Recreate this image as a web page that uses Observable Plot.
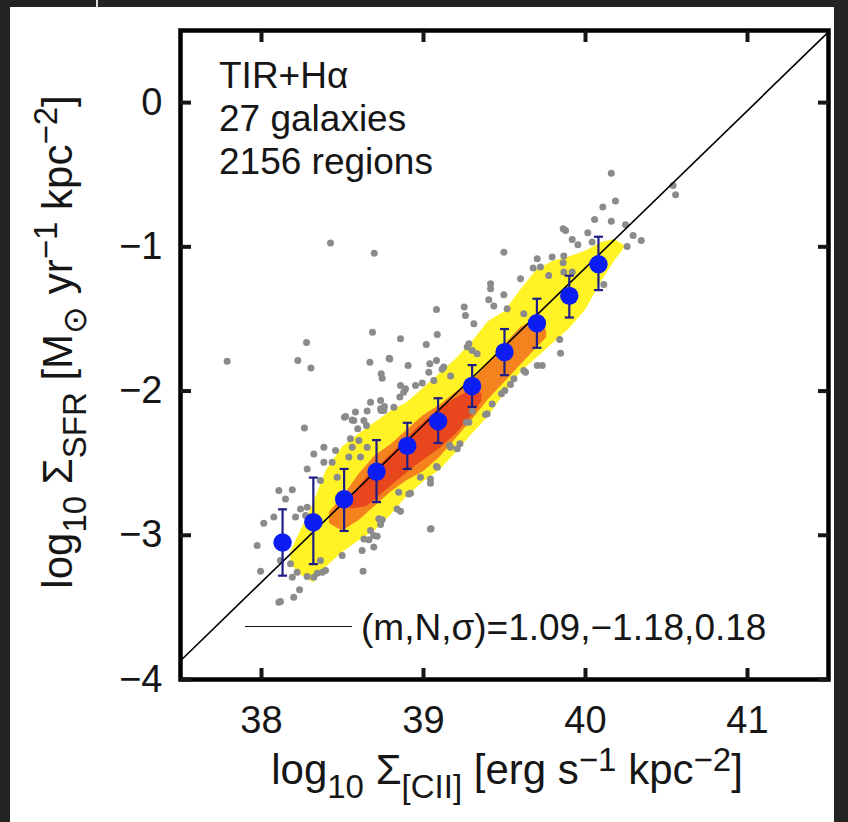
<!DOCTYPE html>
<html><head><meta charset="utf-8">
<script src="https://cdn.jsdelivr.net/npm/d3@7"></script>
<script src="https://cdn.jsdelivr.net/npm/@observablehq/plot@0.6"></script>
<style>
html,body{margin:0;padding:0;background:#232323;width:848px;height:822px;overflow:hidden;font-family:"Liberation Sans",Arial,sans-serif;}
#paper{position:absolute;left:10px;top:7px;width:824px;height:815px;background:#fff;}
#chart{position:absolute;left:0;top:0;}
#stray{position:absolute;left:96px;top:0;width:2px;height:7px;background:#ddd;}
.t{position:absolute;font-size:42px;color:#161616;white-space:nowrap;line-height:1;}
.t sub,.t sup{font-size:33px;line-height:0;vertical-align:baseline;position:relative;}
.t sub{top:0.42em;}
.t sup{top:-0.4em;}
#ann{left:219px;top:54px;line-height:43px;font-size:37px;}
#xlab{left:507px;top:749px;transform:translateX(-50%);}
#ylab{left:58px;top:342px;transform:translate(-50%,-50%) rotate(-90deg);}
#ylab sup{top:-0.45em;}
#legline{position:absolute;left:245px;top:626px;width:107px;height:0;border-top:1.6px solid #111;}
#legtxt{left:361px;top:609px;font-size:37px;}
</style></head><body>
<div id="paper"></div>
<div id="stray"></div>
<div id="chart"></div>
<div class="t" id="ann">TIR+Hα<br>27 galaxies<br>2156 regions</div>
<div class="t" id="xlab">log<sub>10</sub> Σ<sub>[CII]</sub> [erg s<sup>−1</sup> kpc<sup>−2</sup>]</div>
<div class="t" id="ylab">log<sub>10</sub> Σ<sub>SFR</sub> [M<sub>⊙</sub> yr<sup>−1</sup> kpc<sup>−2</sup>]</div>
<div id="legline"></div>
<div class="t" id="legtxt">(m,N,σ)=1.09,−1.18,0.18</div>
<script>
// axes
const xDomain = [37.5, 41.5];
const yDomain = [-4, 0.5];
const xTicks = [38, 39, 40, 41];
const yTicks = [0, -1, -2, -3, -4];

// density contour bands (outer yellow, middle orange, inner red)
const yellowX  = [38.18, 38.25, 38.32, 38.40, 38.50, 38.60, 38.70, 38.80, 38.90, 39.00, 39.10, 39.20, 39.30, 39.40, 39.50, 39.60, 39.70, 39.80, 39.90, 40.00, 40.10, 40.18, 40.24];
const yellowLo = [-3.20, -3.28, -3.33, -3.22, -3.12, -3.04, -2.97, -2.86, -2.73, -2.63, -2.55, -2.43, -2.30, -2.18, -2.02, -1.87, -1.77, -1.67, -1.57, -1.44, -1.24, -1.10, -1.01];
const yellowHi = [-3.12, -2.95, -2.78, -2.55, -2.39, -2.30, -2.22, -2.14, -2.08, -1.98, -1.88, -1.78, -1.66, -1.52, -1.45, -1.30, -1.16, -1.10, -1.07, -1.03, -0.97, -0.95, -0.99];

const orangeX  = [38.42, 38.50, 38.60, 38.70, 38.80, 38.90, 39.00, 39.10, 39.20, 39.30, 39.40, 39.50, 39.60, 39.70, 39.76];
const orangeLo = [-2.92, -2.97, -2.90, -2.80, -2.70, -2.62, -2.56, -2.46, -2.33, -2.20, -2.06, -1.94, -1.82, -1.70, -1.63];
const orangeHi = [-2.84, -2.74, -2.58, -2.45, -2.37, -2.27, -2.17, -2.10, -2.01, -1.93, -1.81, -1.68, -1.56, -1.50, -1.58];

const redX  = [38.55, 38.65, 38.80, 38.95, 39.10, 39.20, 39.30, 39.36];
const redLo = [-2.82, -2.80, -2.66, -2.52, -2.40, -2.30, -2.17, -2.07];
const redHi = [-2.74, -2.60, -2.44, -2.27, -2.12, -2.05, -1.99, -2.02];

// individual regions outside the densest contours (grey)
const scatterX = [38.426,38.696,37.788,38.278,38.224,38.305,38.685,38.669,38.858,38.788,38.739,38.745,38.905,39.017,39.080,39.085,39.251,39.259,39.311,39.039,39.033,39.080,39.125,38.858,38.889,38.878,38.951,38.673,38.652,38.735,38.759,38.512,38.560,39.280,39.270,40.159,40.541,40.556,40.185,40.107,40.056,40.159,40.247,39.862,39.877,40.014,40.294,40.344,39.918,39.953,40.041,40.257,39.496,39.702,39.794,39.866,39.862,39.677,39.722,39.866,39.918,39.599,39.773,39.414,39.414,39.496,39.403,39.434,39.516,40.113,39.841,39.846,39.619,39.301,39.331,38.792,39.115,39.167,38.854,38.992,39.064,38.739,38.580,38.632,38.570,38.594,38.648,38.549,38.601,38.560,39.702,39.733,39.619,39.630,39.502,39.481,39.393,39.280,39.225,39.167,39.085,39.043,39.043,38.909,38.837,38.858,38.724,38.693,38.673,38.632,39.043,38.265,38.519,38.735,38.755,38.817,38.323,38.385,38.457,38.539,38.611,38.652,38.385,38.436,38.282,38.467,38.364,38.107,38.190,38.148,38.014,38.076,38.241,38.282,38.210,38.272,37.973,37.994,38.117,38.179,38.220,38.190,38.282,38.117,38.199,38.235,38.395,38.344,38.364,38.498,38.627,38.621,38.663,38.714,38.693,38.735,38.745,38.847,38.920,38.981,39.080,39.047,39.162,39.208,39.265,39.301,38.107,38.375,38.323,39.558,39.537,39.424,39.383];
const scatterY = [-0.974,-1.044,-1.793,-1.664,-1.788,-1.841,-1.592,-1.800,-1.638,-1.772,-1.880,-1.911,-1.822,-1.677,-1.434,-1.607,-1.418,-1.476,-1.533,-1.810,-1.869,-1.788,-1.834,-1.961,-1.984,-2.008,-1.961,-2.077,-2.139,-2.123,-2.107,-2.181,-2.200,-1.672,-1.695,-0.489,-0.574,-0.639,-0.683,-0.724,-0.810,-0.822,-0.847,-0.875,-0.886,-0.902,-0.921,-0.956,-0.949,-0.986,-0.967,-0.997,-1.037,-1.083,-1.071,-1.064,-1.110,-1.147,-1.140,-1.175,-1.175,-1.221,-1.198,-1.256,-1.291,-1.332,-1.367,-1.411,-1.430,-1.261,-1.642,-1.737,-1.464,-1.719,-1.742,-1.778,-1.848,-1.895,-2.042,-1.945,-1.926,-2.135,-2.146,-2.204,-2.204,-2.262,-2.239,-2.331,-2.343,-2.390,-1.822,-1.822,-1.857,-1.869,-1.996,-2.019,-2.158,-2.216,-2.366,-2.389,-2.528,-2.609,-2.639,-2.713,-2.817,-2.833,-2.886,-3.001,-2.967,-3.026,-2.956,-2.257,-2.176,-2.065,-2.135,-2.112,-2.437,-2.390,-2.412,-2.458,-2.458,-2.390,-2.494,-2.494,-2.540,-2.597,-2.620,-2.689,-2.684,-2.748,-2.916,-2.874,-2.817,-2.806,-2.874,-2.863,-3.071,-3.249,-3.175,-3.198,-3.256,-3.291,-3.286,-3.459,-3.429,-3.378,-3.244,-3.263,-3.175,-3.140,-3.249,-3.105,-3.031,-3.006,-3.082,-2.925,-2.892,-2.701,-2.708,-2.597,-2.523,-2.955,-2.377,-2.400,-2.216,-2.139,-3.464,-3.256,-3.291,-1.915,-1.954,-2.090,-2.162];

// binned medians with error bars
const binX  = [38.13, 38.32, 38.51, 38.71, 38.90, 39.09, 39.30, 39.50, 39.70, 39.90, 40.08];
const binY  = [-3.05, -2.91, -2.75, -2.56, -2.38, -2.21, -1.965, -1.73, -1.53, -1.34, -1.12];
const binLo = [-3.28, -3.20, -2.97, -2.77, -2.54, -2.36, -2.11, -1.89, -1.70, -1.49, -1.30];
const binHi = [-2.82, -2.60, -2.54, -2.34, -2.22, -2.05, -1.82, -1.57, -1.36, -1.20, -0.93];

// fitted line (m,N,sigma) = 1.09, -1.18, 0.18, drawn across the panel
const fitX = [37.5, 41.5];
const fitY = [-3.87, 0.49];

const band = (xs, lo, hi) => xs.map((x, i) => ({x, lo: lo[i], hi: hi[i]}));
const scatter = scatterX.map((x, i) => ({x, y: scatterY[i]}));
const bins = binX.map((x, i) => ({x, y: binY[i], lo: binLo[i], hi: binHi[i]}));
const fit = fitX.map((x, i) => ({x, y: fitY[i]}));

const cap = {draw(ctx, size) { const r = Math.sqrt(size / Math.PI); ctx.moveTo(-r, 0); ctx.lineTo(r, 0); }};
const navy = "#1e1e86";
const fmt = d => d < 0 ? "\u2212" + (-d) : String(d);
const font = "'Liberation Sans', Arial, sans-serif";

const chart = Plot.plot({
  width: 848, height: 822,
  marginLeft: 180, marginRight: 20, marginTop: 30, marginBottom: 143,
  x: {domain: xDomain, label: null},
  y: {domain: yDomain, label: null},
  style: {background: "transparent", fontFamily: font, color: "#161616", overflow: "visible"},
  marks: [
    Plot.areaY(band(yellowX, yellowLo, yellowHi), {x: "x", y1: "lo", y2: "hi", fill: "#fff326", curve: "linear"}),
    Plot.areaY(band(orangeX, orangeLo, orangeHi), {x: "x", y1: "lo", y2: "hi", fill: "#f4821f", curve: "linear"}),
    Plot.areaY(band(redX, redLo, redHi), {x: "x", y1: "lo", y2: "hi", fill: "#e8461c", curve: "linear"}),
    Plot.dot(scatter, {x: "x", y: "y", r: 3.5, fill: "#8b8b8b"}),
    Plot.line(fit, {x: "x", y: "y", stroke: "#000", strokeWidth: 1.6}),
    Plot.ruleX(bins, {x: "x", y1: "lo", y2: "hi", stroke: navy, strokeWidth: 2.2}),
    Plot.dot(bins, {x: "x", y: "lo", symbol: cap, r: 4.5, fill: "none", stroke: navy, strokeWidth: 2.2}),
    Plot.dot(bins, {x: "x", y: "hi", symbol: cap, r: 4.5, fill: "none", stroke: navy, strokeWidth: 2.2}),
    Plot.dot(bins, {x: "x", y: "y", r: 9.2, fill: "#0b1df2"}),
    Plot.frame({stroke: "#000", strokeWidth: 4.5}),
    Plot.axisX(xTicks, {anchor: "bottom", tickSize: -11, tickPadding: 38, strokeWidth: 4, fontSize: 38, tickFormat: fmt, label: null}),
    Plot.axisX(xTicks, {anchor: "top", tickSize: -11, tickFormat: () => "", strokeWidth: 4, label: null}),
    Plot.axisY(yTicks, {anchor: "left", tickSize: -11, tickPadding: 29, strokeWidth: 4, fontSize: 38, tickFormat: fmt, label: null}),
    Plot.axisY(yTicks, {anchor: "right", tickSize: -11, tickFormat: () => "", strokeWidth: 4, label: null})
  ]
});
document.getElementById("chart").appendChild(chart);
</script>
</body></html>
